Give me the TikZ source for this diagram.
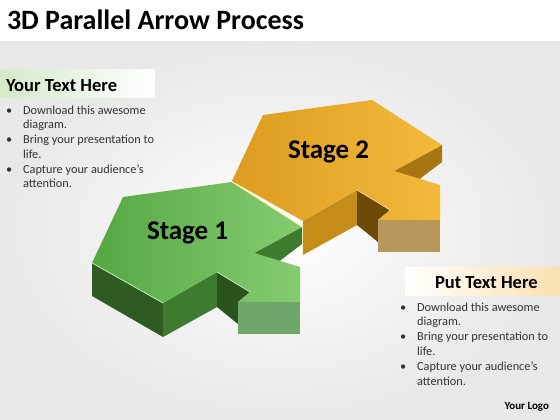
\documentclass[tikz,border=0pt]{standalone}
\usepackage{fontspec}
\setmainfont{Carlito}
\definecolor{gtopa}{HTML}{55A742}
\definecolor{gtopb}{HTML}{86CC72}
\definecolor{gleft}{HTML}{2D5B22}
\definecolor{gfront}{HTML}{3D7B2F}
\definecolor{gwall}{HTML}{2A5320}
\definecolor{grect}{HTML}{6FA669}
\definecolor{otopa}{HTML}{DC9C1F}
\definecolor{otopb}{HTML}{F3BA3C}
\definecolor{ofront}{HTML}{C48D18}
\definecolor{owall}{HTML}{6E4A08}
\definecolor{oupper}{HTML}{A77512}
\definecolor{orect}{HTML}{B8975A}
\definecolor{lefthd}{HTML}{D3EAC8}
\definecolor{righthd}{HTML}{FAE0AE}
\begin{document}
\begin{tikzpicture}[x=1pt, y=-1pt, every node/.style={inner sep=0pt, outer sep=0pt},
  listtext/.style={anchor=base west, text=black!80, font=\fontsize{12.3}{14.8}\selectfont},
  headtext/.style={anchor=base west, font=\fontsize{18.5}{21}\selectfont\bfseries},
  stagetext/.style={anchor=base west, font=\fontsize{27}{30}\selectfont\bfseries},
  hilite/.style={draw=#1, line width=0.6pt}]
\useasboundingbox (0,0) rectangle (560,420);
% background
\fill[white] (0,0) rectangle (560,42);
\shade[inner color=white, outer color=black!9] (0,42) rectangle (560,420);
\shade[left color=lefthd, right color=white] (0,70) rectangle (155,98);
\shade[left color=white, right color=righthd] (405,267) rectangle (560,295);

% stage 2 (orange), drawn first
\begin{scope}[shift={(140,-82)}]
  \fill[ofront] (163,303) -- (217,272) -- (217,307) -- (163,337) -- cycle;
  \fill[owall] (217,272) -- (250,292) -- (238,302) -- (238,324) -- (217,307) -- cycle;
  \fill[oupper] (254,253) -- (302,227) -- (302,244) -- (277,263) -- cycle;
  \shade[left color=otopa, right color=otopb] (92,263) -- (123,197) -- (232,182) -- (302,227)
    -- (254,253) -- (300,267) -- (300,302) -- (238,302) -- (250,292) -- (217,272) -- (163,303) -- cycle;
  \fill[orect] (238,302) rectangle (300,334);
  \draw[hilite=orange!30] (217,272) -- (250,292);
\end{scope}

% stage 1 (green)
\fill[gleft] (92,263) -- (163,303) -- (163,337) -- (92,296) -- cycle;
\fill[gfront] (163,303) -- (217,272) -- (217,307) -- (163,337) -- cycle;
\fill[gwall] (217,272) -- (250,292) -- (238,302) -- (238,324) -- (217,307) -- cycle;
\fill[gfront] (254,253) -- (302,227) -- (302,244) -- (277,263) -- cycle;
\shade[left color=gtopa, right color=gtopb] (92,263) -- (123,197) -- (232,182) -- (302,227)
  -- (254,253) -- (300,267) -- (300,302) -- (238,302) -- (250,292) -- (217,272) -- (163,303) -- cycle;
\fill[grect] (238,302) rectangle (300,334);
\draw[hilite=green!15] (92,263) -- (163,303);
\draw[hilite=yellow!60] (232,182) -- (302,227);
\draw[hilite=green!20] (217,272) -- (250,292);

% labels
\node[stagetext] (stage1) at (147,239) {Stage 1};
\node[stagetext] (stage2) at (288,158) {Stage 2};

\node[anchor=base west, font=\fontsize{28}{31}\selectfont\bfseries] (title) at (7,30) {3D Parallel Arrow Process};
\node[headtext] (lefthead) at (6,92) {Your Text Here};
\node[headtext] (righthead) at (435,288) {Put Text Here};
\node[listtext] (leftlist) at (6,114) {\begin{tabular}[t]{@{}l@{\hspace{11pt}}l@{}}
  \textbullet & Download this awesome\\ & diagram.\\
  \textbullet & Bring your presentation to\\ & life.\\
  \textbullet & Capture your audience’s\\ & attention.
\end{tabular}};
\node[listtext] (rightlist) at (400,311) {\begin{tabular}[t]{@{}l@{\hspace{11pt}}l@{}}
  \textbullet & Download this awesome\\ & diagram.\\
  \textbullet & Bring your presentation to\\ & life.\\
  \textbullet & Capture your audience’s\\ & attention.
\end{tabular}};
\node[anchor=base east, font=\fontsize{11}{13}\selectfont\bfseries] (logo) at (549,409) {Your Logo};
\end{tikzpicture}
\end{document}
